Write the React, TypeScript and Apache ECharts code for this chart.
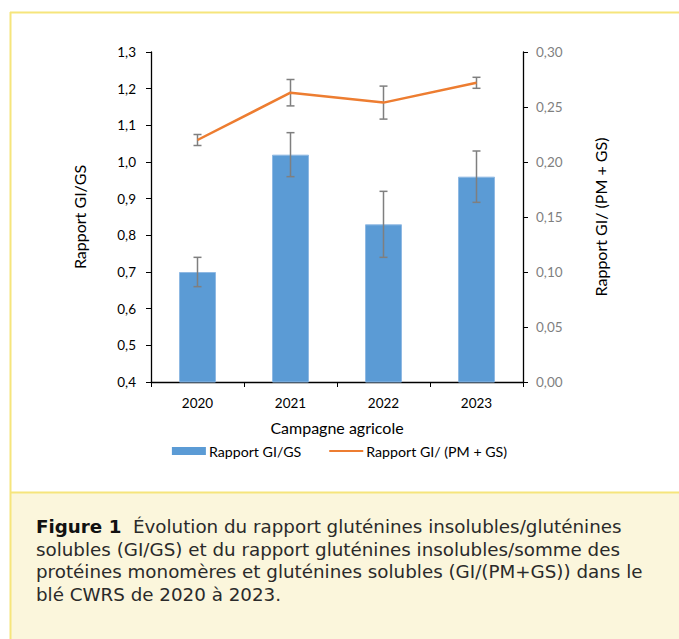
import React, { useEffect, useRef } from "react";
import * as echarts from "echarts";

// Campaign years and measured ratios with their standard deviations
const years = ["2020", "2021", "2022", "2023"];
const ratioGiGs = [0.70, 1.02, 0.83, 0.96];
const ratioGiGsErr = [0.04, 0.06, 0.09, 0.07];
const ratioGiPmGs = [0.220, 0.263, 0.254, 0.272];
const ratioGiPmGsErr = [0.005, 0.012, 0.015, 0.005];

const leftTicks = { min: 0.4, max: 1.3, interval: 0.1 };
const rightTicks = { min: 0, max: 0.3, interval: 0.05 };

const seriesNames = ["Rapport GI/GS", "Rapport GI/ (PM + GS)"];
const axisNames = { x: "Campagne agricole", left: "Rapport GI/GS", right: "Rapport GI/ (PM + GS)" };

const captionLines = [
  "{b|Figure 1}  Évolution du rapport gluténines insolubles/gluténines",
  "solubles (GI/GS) et du rapport gluténines insolubles/somme des",
  "protéines monomères et gluténines solubles (GI/(PM+GS)) dans le",
  "blé CWRS de 2020 à 2023.",
];

const W = 679;
const H = 639;
const FONT = "Lato, 'Open Sans', sans-serif";
const CAPTION_FONT = "'DejaVu Sans', 'Liberation Sans', Arial, sans-serif";

function errorBars(values: number[], errs: number[]) {
  return values.map((v, i) => [i, v - errs[i], v + errs[i]]);
}

function renderErrorBar(params: any, api: any) {
  const x = api.value(0);
  const lo = api.coord([x, api.value(1)]);
  const hi = api.coord([x, api.value(2)]);
  const cap = 4;
  const style = { stroke: "#7f7f7f", lineWidth: 1.5 };
  return {
    type: "group",
    children: [
      { type: "line", shape: { x1: hi[0], y1: hi[1], x2: lo[0], y2: lo[1] }, style },
      { type: "line", shape: { x1: hi[0] - cap, y1: hi[1], x2: hi[0] + cap, y2: hi[1] }, style },
      { type: "line", shape: { x1: lo[0] - cap, y1: lo[1], x2: lo[0] + cap, y2: lo[1] }, style },
    ],
  };
}

export default function App() {
  const ref = useRef<HTMLDivElement>(null);

  useEffect(() => {
    if (!ref.current) return;
    const chart = echarts.init(ref.current, null, { renderer: "svg" });
    const yellow = "#f6e57c";

    chart.setOption({
      animation: false,
      textStyle: { fontFamily: FONT },
      grid: { left: 151, right: 156, top: 52, bottom: 257, containLabel: false },
      legend: {
        data: [
          { name: seriesNames[0], icon: "rect", itemStyle: { borderWidth: 0 } },
          { name: seriesNames[1], itemStyle: { opacity: 0 } },
        ],
        left: "center",
        top: 439,
        itemWidth: 34,
        itemHeight: 8,
        itemGap: 27,
        textStyle: { fontFamily: FONT, fontSize: 14.2, color: "#000", padding: [0, 0, 0, -2] },
      },
      xAxis: {
        type: "category",
        data: years,
        boundaryGap: true,
        name: axisNames.x,
        nameLocation: "middle",
        nameGap: 37,
        nameTextStyle: { fontFamily: FONT, fontSize: 16, color: "#000" },
        axisLine: { lineStyle: { color: "#000", width: 1.3 } },
        axisTick: { show: true, length: 5, lineStyle: { color: "#000" } },
        axisLabel: { margin: 14, fontSize: 13.5, color: "#000", fontFamily: FONT },
        splitLine: { show: false },
      },
      yAxis: [
        {
          type: "value",
          ...leftTicks,
          name: axisNames.left,
          nameLocation: "middle",
          nameRotate: 90,
          nameGap: 64,
          nameTextStyle: { fontFamily: FONT, fontSize: 16, color: "#000" },
          axisLine: { show: true, lineStyle: { color: "#000", width: 1.3 } },
          axisTick: { show: true, length: 5, lineStyle: { color: "#000" } },
          axisLabel: {
            margin: 15,
            fontSize: 13.5,
            color: "#000",
            fontFamily: FONT,
            formatter: (v: number) => v.toFixed(1).replace(".", ","),
          },
          splitLine: { show: false },
        },
        {
          type: "value",
          ...rightTicks,
          position: "right",
          name: axisNames.right,
          nameLocation: "middle",
          nameRotate: 90,
          nameGap: 69,
          nameTextStyle: { fontFamily: FONT, fontSize: 16, color: "#000" },
          axisLine: { show: true, lineStyle: { color: "#000", width: 1.3 } },
          axisTick: { show: true, length: 5, lineStyle: { color: "#000" } },
          axisLabel: {
            margin: 13,
            fontSize: 13.5,
            color: "#7f7f7f",
            fontFamily: FONT,
            formatter: (v: number) => v.toFixed(2).replace(".", ","),
          },
          splitLine: { show: false },
        },
      ],
      series: [
        {
          name: seriesNames[0],
          type: "bar",
          data: ratioGiGs,
          barWidth: 37,
          itemStyle: { color: "#5b9bd5", borderColor: "#8fb9e3", borderWidth: 1 },
          z: 2,
        },
        {
          name: seriesNames[1],
          type: "line",
          yAxisIndex: 1,
          data: ratioGiPmGs,
          symbol: "none",
          lineStyle: { color: "#ed7d31", width: 2.5 },
          itemStyle: { color: "#ed7d31" },
          z: 4,
        },
        {
          type: "custom",
          name: "errGiGs",
          data: errorBars(ratioGiGs, ratioGiGsErr),
          renderItem: renderErrorBar,
          encode: { x: 0, y: [1, 2] },
          z: 5,
          silent: true,
        },
        {
          type: "custom",
          name: "errGiPmGs",
          yAxisIndex: 1,
          data: errorBars(ratioGiPmGs, ratioGiPmGsErr),
          renderItem: renderErrorBar,
          encode: { x: 0, y: [1, 2] },
          z: 3,
          silent: true,
        },
      ],
      graphic: [
        // card frame
        { type: "line", shape: { x1: 10, y1: 12.5, x2: W, y2: 12.5 }, style: { stroke: yellow, lineWidth: 2 }, z: 10 },
        { type: "line", shape: { x1: 10.5, y1: 12, x2: 10.5, y2: H }, style: { stroke: yellow, lineWidth: 2 }, z: 10 },
        // caption panel
        { type: "rect", shape: { x: 11, y: 492, width: W - 11, height: H - 492 }, style: { fill: "#fbf6dc" }, z: 1 },
        { type: "line", shape: { x1: 10, y1: 492.5, x2: W, y2: 492.5 }, style: { stroke: yellow, lineWidth: 2 }, z: 10 },
        {
          type: "text",
          x: 36,
          y: 515,
          z: 11,
          style: {
            text: captionLines.join("\n"),
            fontFamily: CAPTION_FONT,
            fontSize: 18.3,
            lineHeight: 22.7,
            fill: "#2a2a2a",
            verticalAlign: "top",
            rich: {
              b: { fontFamily: CAPTION_FONT, fontSize: 18.3, fontWeight: "bold", lineHeight: 22.7, fill: "#111" },
            },
          },
        },
      ],
    });

    return () => chart.dispose();
  }, []);

  return (
    <div style={{ position: "fixed", left: 0, top: 0, width: W, height: H, background: "#fff" }}>
      <div ref={ref} style={{ width: W, height: H }} />
    </div>
  );
}
